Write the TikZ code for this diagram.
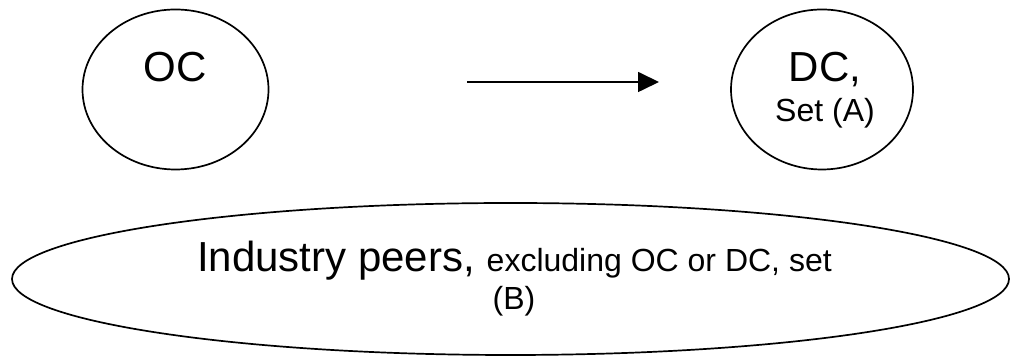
\documentclass[tikz,border=0pt]{standalone}
\usepackage{fontspec}
\setmainfont{Liberation Sans}
\usetikzlibrary{shapes.geometric,arrows.meta}

\tikzset{
  bubble/.style={draw,ellipse,line width=0.85pt,inner sep=0pt},
  labelbig/.style={anchor=base,inner sep=0pt,font=\fontsize{21}{25}\selectfont},
  labelsmall/.style={anchor=base,inner sep=0pt,font=\fontsize{16}{19}\selectfont},
}

\begin{document}
\begin{tikzpicture}[x=0.5pt,y=-0.5pt]
  \useasboundingbox (0,0) rectangle (1011,356);

  \node[bubble,minimum width=93pt,minimum height=80pt] (oc) at (175.5,89.5) {};
  \node[bubble,minimum width=91pt,minimum height=80pt] (dc) at (822,89.5) {};
  \node[bubble,minimum width=498.5pt,minimum height=76pt] (peers) at (510.5,279) {};

  \node[labelbig] (octext) at (175,82) {OC};
  \node[labelbig] (dctext) at (825,82) {DC,};
  \node[labelsmall] (settext) at (825,122) {Set (A)};
  \node[labelbig] (peerstext) at (514.5,272)
        {Industry peers, {\fontsize{16}{19}\selectfont excluding OC or DC, set}};
  \node[labelsmall] (btext) at (514,310) {(B)};

  \coordinate (from) at (467,82);
  \coordinate (to) at (659,82);
  \draw[line width=0.85pt,-{Triangle[length=10.5pt,width=10pt]}] (from) -- (to);
\end{tikzpicture}
\end{document}
